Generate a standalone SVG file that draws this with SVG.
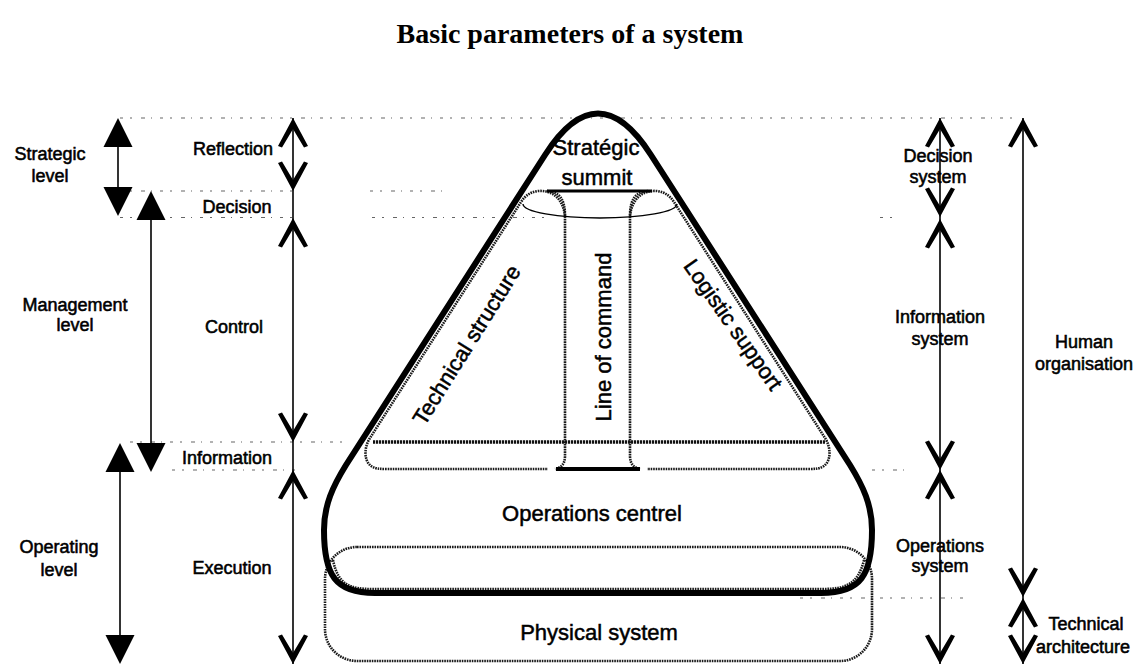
<svg xmlns="http://www.w3.org/2000/svg" xmlns:xlink="http://www.w3.org/1999/xlink" width="1140" height="664" viewBox="0 0 1140 664">
  <style>
    .lbl { font-family: "Liberation Sans", Arial, sans-serif; font-size: 18px; fill: #000; stroke: #000; stroke-width: 0.55; text-anchor: middle; }
    .big { font-family: "Liberation Sans", Arial, sans-serif; font-size: 22px; fill: #000; stroke: #000; stroke-width: 0.5; text-anchor: middle; }
    .title { font-family: "Liberation Serif", "Times New Roman", serif; font-size: 28px; font-weight: bold; fill: #000; text-anchor: middle; }
    .guide { stroke: #666; stroke-width: 1.2; fill: none; stroke-dasharray: 3 7 2 9 4 6 1 8; }
    .dot { stroke: #1a1a1a; stroke-width: 2.6; fill: none; stroke-dasharray: 1.6 0.9; }
    .dotb { stroke: #111; stroke-width: 3.6; fill: none; stroke-dasharray: 2.2 0.8; }
    .thick { stroke: #000; stroke-width: 6; fill: none; stroke-linejoin: round; }
    .shaft { stroke: #000; stroke-width: 1.6; fill: none; }
  </style>
  <defs>
    <!-- open chevron head, tip at origin, pointing up -->
    <path id="chev" d="M0,0 L15,28 L11,29.5 L0,11 L-11,29.5 L-15,28 Z" fill="#000"/>
    <!-- solid triangular head, tip at origin, pointing up -->
    <path id="tri" d="M0,0 L14.5,29 L-14.5,29 Z" fill="#000"/>
  </defs>

  <rect width="1140" height="664" fill="#fff"/>

  <text class="title" x="570" y="43">Basic parameters of a system</text>

  <!-- level boundary guides -->
  <g id="guides">
    <line class="guide" x1="120" y1="118" x2="1015" y2="118"/>
    <line class="guide" x1="120" y1="191" x2="300" y2="191"/>
    <line class="guide" x1="370" y1="191" x2="445" y2="191"/>
    <line class="guide" x1="120" y1="217.5" x2="300" y2="217.5"/>
    <line class="guide" x1="372" y1="217.5" x2="545" y2="217.5"/>
    <line class="guide" x1="880" y1="217.5" x2="900" y2="217.5"/>
    <line class="guide" x1="130" y1="442" x2="348" y2="442"/>
    <line class="guide" x1="172" y1="470" x2="300" y2="470"/>
    <line class="guide" x1="872" y1="470" x2="905" y2="470"/>
    <line class="guide" x1="800" y1="598" x2="965" y2="598"/>
  </g>

  <!-- physical system -->
  <g id="physical-system">
    <rect class="dot" x="325" y="547" width="547" height="114" rx="32" ry="32"/>
    <text class="big" x="599" y="640">Physical system</text>
  </g>

  <!-- technical structure (left staff region) -->
  <g id="technical-structure">
    <path class="dot" d="M565,216 C563,198 552,190 538,191 C530,192 525,196 521,202 L370,438 C364,447 364,460 370,465 C374,469 380,469 388,469 L548,469"/>
    <text class="big" transform="translate(473,349) rotate(-58)" x="0" y="0">Technical structure</text>
  </g>

  <!-- logistic support (right staff region) -->
  <g id="logistic-support">
    <path class="dot" d="M630,216 C632,198 643,190 657,191 C665,192 670,196 674,202 L825,438 C831,447 831,460 825,465 C821,469 815,469 807,469 L647,469"/>
    <text class="big" transform="translate(727,329) rotate(55)" x="0" y="0">Logistic support</text>
  </g>

  <!-- line of command column -->
  <g id="line-of-command">
    <path class="dot" d="M547,191 C560,192 565,200 565,216 L565,456 C565,464 561,468 555,469"/>
    <path class="dot" d="M648,191 C635,192 630,200 630,216 L630,456 C630,464 634,468 640,469"/>
    <line x1="547" y1="191" x2="652" y2="191" stroke="#000" stroke-width="2.8"/>
    <line x1="556" y1="469" x2="640" y2="469" stroke="#000" stroke-width="3.8"/>
    <text class="big" transform="translate(611,337) rotate(-90)" x="0" y="0">Line of command</text>
  </g>

  <!-- information band -->
  <g id="information-band">
    <line class="dotb" x1="373" y1="442" x2="825" y2="442"/>
  </g>

  <!-- strategic summit -->
  <g id="strategic-summit">
    <path d="M523,204 A77,14 0 0 0 677,204" stroke="#000" stroke-width="1.4" fill="none"/>
    <text class="big" x="596" y="155">Stratégic</text>
    <text class="big" x="597" y="185">summit</text>
  </g>

  <!-- operations centre: the organisation outline -->
  <g id="operations-centre">
    <path class="dot" d="M333,560 C338,585 350,589 372,589 L822,589 C845,589 858,585 864,560"/>
    <path class="thick" d="M545,155 Q598,72 651,155 L850,465 C863,486 872,505 872,530 C872,575 861,593 821,593 L375,593 C335,593 324,575 324,530 C324,505 333,486 346,465 Z"/>
    <text class="big" x="592" y="521">Operations centrel</text>
  </g>

  <!-- left scale: levels -->
  <g id="strategic-level">
    <text class="lbl" x="50" y="160">Strategic</text>
    <text class="lbl" x="50" y="182">level</text>
  </g>
  <g id="management-level">
    <text class="lbl" x="75" y="311">Management</text>
    <text class="lbl" x="75" y="331">level</text>
  </g>
  <g id="operating-level">
    <text class="lbl" x="59" y="553">Operating</text>
    <text class="lbl" x="59" y="576">level</text>
  </g>

  <!-- middle scale: functions -->
  <g id="reflection"><text class="lbl" x="233" y="155">Reflection</text></g>
  <g id="decision"><text class="lbl" x="237" y="213">Decision</text></g>
  <g id="control"><text class="lbl" x="234" y="333">Control</text></g>
  <g id="information"><text class="lbl" x="227" y="464">Information</text></g>
  <g id="execution"><text class="lbl" x="232" y="574">Execution</text></g>

  <!-- right scale: subsystems -->
  <g id="decision-system">
    <text class="lbl" x="938" y="162">Decision</text>
    <text class="lbl" x="938" y="183">system</text>
  </g>
  <g id="information-system">
    <text class="lbl" x="940" y="323">Information</text>
    <text class="lbl" x="940" y="345">system</text>
  </g>
  <g id="operations-system">
    <text class="lbl" x="940" y="552">Operations</text>
    <text class="lbl" x="940" y="572">system</text>
  </g>
  <g id="human-organisation">
    <text class="lbl" x="1084" y="348">Human</text>
    <text class="lbl" x="1084" y="370">organisation</text>
  </g>
  <g id="technical-architecture">
    <text class="lbl" x="1086" y="630">Technical</text>
    <text class="lbl" x="1083" y="653">architecture</text>
  </g>

  <!-- span arrows -->
  <g id="connectors">
    <!-- levels -->
    <line class="shaft" x1="118" y1="130" x2="118" y2="205"/>
    <use href="#tri" x="118" y="118"/>
    <use href="#tri" transform="translate(118,216) scale(1,-1)"/>
    <line class="shaft" x1="151" y1="203" x2="151" y2="460"/>
    <use href="#tri" x="151" y="191"/>
    <use href="#tri" transform="translate(151,472) scale(1,-1)"/>
    <line class="shaft" x1="120" y1="455" x2="120" y2="652"/>
    <use href="#tri" x="120" y="443"/>
    <use href="#tri" transform="translate(120,664) scale(1,-1)"/>

    <!-- functions -->
    <line class="shaft" x1="293" y1="118" x2="293" y2="664"/>
    <use href="#chev" x="293" y="118"/>
    <use href="#chev" transform="translate(293,191) scale(1,-1)"/>
    <use href="#chev" x="293" y="218"/>
    <use href="#chev" transform="translate(293,442) scale(1,-1)"/>
    <use href="#chev" x="293" y="470"/>
    <use href="#chev" transform="translate(293,664) scale(1,-1)"/>

    <!-- subsystems -->
    <line class="shaft" x1="940" y1="118" x2="940" y2="664"/>
    <use href="#chev" x="940" y="118"/>
    <use href="#chev" transform="translate(940,217) scale(1,-1)"/>
    <use href="#chev" x="940" y="219"/>
    <use href="#chev" transform="translate(940,470) scale(1,-1)"/>
    <use href="#chev" x="940" y="470"/>
    <use href="#chev" transform="translate(940,664) scale(1,-1)"/>

    <!-- human organisation / technical architecture -->
    <line class="shaft" x1="1023" y1="118" x2="1023" y2="664"/>
    <use href="#chev" x="1023" y="118"/>
    <use href="#chev" transform="translate(1023,597) scale(1,-1)"/>
    <use href="#chev" x="1023" y="598"/>
    <use href="#chev" transform="translate(1023,664) scale(1,-1)"/>
  </g>
</svg>
